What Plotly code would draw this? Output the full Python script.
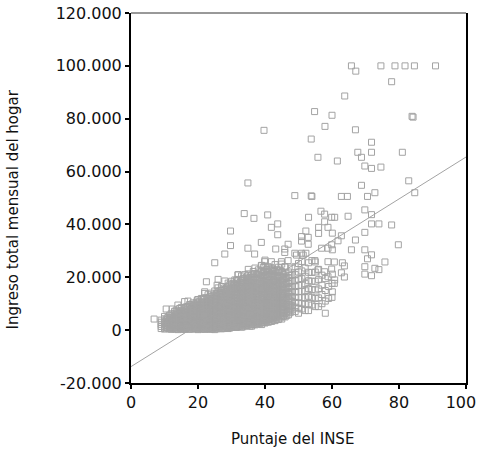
import plotly.graph_objects as go

# Puntos dispersos (puntaje INSE, ingreso en miles)
inse_disperso = [6.9, 65.8, 74.6, 78.8, 81.8, 84.6, 90.9, 67.1, 77.8, 63.8, 54.8, 60.0, 83.9, 84.2,
                 57.9, 67.0, 39.7, 53.8, 71.8, 55.8, 67.7, 68.8, 71.8, 81.0, 61.6, 69.8, 71.8, 74.6,
                 82.9, 34.9, 68.8, 84.7, 48.9, 53.8, 54.0, 62.8, 64.6, 70.6, 72.8, 69.8, 71.8, 64.8,
                 59.9, 60.8, 33.8, 36.7, 40.8, 53.0, 56.7, 57.8, 57.8, 71.8, 74.0, 77.8, 69.8, 67.0,
                 62.8, 61.8, 79.8, 65.8, 69.8, 71.8, 70.6, 75.8, 69.8, 72.8, 74.0, 69.8, 71.8, 63.1,
                 63.7, 62.8, 63.7, 60.7, 60.1, 60.7, 60.1, 60.1, 59.9, 60.1, 29.7, 41.9, 43.8, 43.8,
                 56.0, 58.8, 56.0, 52.2, 50.9, 52.9, 50.9, 52.9, 29.7, 38.9, 34.9, 36.9, 46.9, 43.2,
                 45.9, 45.9, 28.0, 25.0, 48.9, 50.9, 52.2, 56.9, 58.8, 54.9, 58.8, 59.9, 55.8, 57.8,
                 58.8, 60.8, 39.9, 41.9, 38.9, 42.2, 44.9, 46.9, 45.9, 22.5, 26.0, 28.0, 31.9, 22.0,
                 10.5, 12.3, 14.0, 16.0, 17.0, 19.8, 25.7, 49.4, 51.4]
ingreso_disperso = [4.2, 100, 100, 100, 100, 100, 100, 98.0, 94.0, 88.6, 82.7, 81.3, 80.9, 80.6,
                    77.1, 75.8, 75.6, 72.3, 71.1, 65.4, 67.3, 65.4, 67.3, 67.3, 64.0, 62.1, 61.2, 61.7,
                    56.5, 55.7, 54.8, 52.0, 50.9, 50.8, 50.6, 50.6, 50.6, 50.6, 52.0, 45.5, 43.7, 43.1,
                    42.7, 42.7, 44.1, 42.3, 43.6, 42.7, 45.0, 43.9, 41.0, 40.2, 40.2, 39.8, 37.0, 34.1,
                    35.7, 33.8, 32.3, 30.4, 30.4, 28.5, 27.0, 25.8, 24.0, 23.4, 22.9, 21.2, 20.6, 25.5,
                    24.3, 21.7, 20.1, 25.8, 21.2, 17.7, 14.5, 36.7, 32.3, 30.4, 37.5, 38.9, 40.2, 36.1,
                    38.9, 38.9, 36.6, 37.5, 35.4, 35.1, 33.7, 32.5, 32.0, 33.2, 31.0, 28.8, 32.5, 30.7,
                    30.7, 29.4, 28.8, 25.5, 29.1, 29.1, 29.1, 31.0, 31.0, 26.3, 25.9, 23.1, 22.8, 22.1,
                    20.2, 19.0, 25.9, 25.9, 24.4, 22.8, 25.9, 26.3, 24.0, 18.3, 19.2, 18.6, 20.9, 13.9,
                    8.0, 8.0, 9.5, 10.8, 11.0, 11.4, 17.0, 28.4, 28.4]

# Nube densa: puntaje INSE por columna y sus ingresos (miles)
inse_columnas = list(range(9, 61))
ingreso_columnas = [
    [0.6, 1.4, 2.2, 3.0, 3.8],
    [0.4, 1.1, 1.9, 2.6, 3.4, 4.3, 5.2],
    [0.7, 1.5, 2.3, 3.1, 3.9, 4.8],
    [0.3, 1.0, 1.8, 2.5, 3.3, 4.1, 5.0, 6.2],
    [0.5, 1.3, 2.0, 2.8, 3.6, 4.4, 5.3, 6.4, 7.1],
    [0.2, 0.9, 1.7, 2.4, 3.2, 4.0, 4.9, 5.8, 6.9],
    [0.6, 1.4, 2.1, 2.9, 3.7, 4.5, 5.4, 6.3, 7.5, 8.6],
    [0.3, 1.0, 1.8, 2.6, 3.4, 4.2, 5.1, 6.0, 7.0, 8.1],
    [0.8, 1.5, 2.3, 3.1, 3.9, 4.7, 5.6, 6.6, 7.7, 9.0],
    [0.4, 1.2, 2.0, 2.8, 3.5, 4.3, 5.2, 6.1, 7.1, 8.2, 9.4],
    [0.6, 1.3, 2.1, 2.9, 3.7, 4.6, 5.5, 6.4, 7.4, 8.5, 9.8],
    [0.2, 1.0, 1.8, 2.6, 3.4, 4.2, 5.0, 5.9, 6.8, 7.8, 8.9, 10.2, 11.6],
    [0.5, 1.3, 2.1, 2.9, 3.7, 4.5, 5.4, 6.3, 7.2, 8.2, 9.3, 10.5, 12.0],
    [0.3, 1.1, 1.9, 2.7, 3.5, 4.3, 5.2, 6.1, 7.0, 8.0, 9.1, 10.3, 11.7, 14.5],
    [0.6, 1.4, 2.2, 3.0, 3.8, 4.6, 5.5, 6.4, 7.3, 8.3, 9.4, 10.6, 12.0, 13.4],
    [0.4, 1.2, 2.0, 2.8, 3.6, 4.4, 5.3, 6.2, 7.1, 8.0, 9.0, 10.1, 11.3, 12.6, 14.0],
    [0.2, 1.0, 1.8, 2.6, 3.4, 4.2, 5.0, 5.9, 6.8, 7.7, 8.7, 9.7, 10.8, 12.0, 13.3, 14.8],
    [0.7, 1.5, 2.3, 3.1, 3.9, 4.7, 5.6, 6.5, 7.4, 8.4, 9.4, 10.5, 11.7, 13.0, 14.4, 16.0],
    [0.5, 1.3, 2.1, 2.9, 3.7, 4.5, 5.3, 6.2, 7.1, 8.0, 9.0, 10.0, 11.1, 12.3, 13.6, 15.0, 16.5],
    [0.8, 1.6, 2.4, 3.2, 4.0, 4.8, 5.7, 6.6, 7.5, 8.4, 9.4, 10.4, 11.5, 12.7, 14.0, 15.4],
    [0.6, 1.4, 2.2, 3.0, 3.8, 4.6, 5.4, 6.3, 7.2, 8.1, 9.1, 10.1, 11.2, 12.4, 13.7, 15.1, 16.6, 17.8],
    [1.0, 1.8, 2.6, 3.4, 4.2, 5.0, 5.9, 6.8, 7.7, 8.6, 9.6, 10.6, 11.7, 12.9, 14.2, 15.6, 17.0, 18.5],
    [1.2, 2.0, 2.8, 3.6, 4.4, 5.2, 6.1, 7.0, 7.9, 8.8, 9.8, 10.8, 11.9, 13.1, 14.4, 15.8, 17.3, 19.0],
    [1.4, 2.2, 3.0, 3.8, 4.6, 5.4, 6.3, 7.2, 8.1, 9.0, 10.0, 11.0, 12.1, 13.3, 14.6, 16.0, 17.5, 19.2, 21.0],
    [1.1, 1.9, 2.7, 3.5, 4.3, 5.1, 6.0, 6.9, 7.8, 8.7, 9.7, 10.7, 11.8, 13.0, 14.3, 15.7, 17.2, 18.8, 20.5],
    [1.6, 2.4, 3.2, 4.0, 4.8, 5.6, 6.5, 7.4, 8.3, 9.2, 10.2, 11.2, 12.3, 13.5, 14.8, 16.2, 17.7, 19.3, 21.0],
    [1.9, 2.7, 3.5, 4.3, 5.1, 5.9, 6.8, 7.7, 8.6, 9.5, 10.5, 11.5, 12.6, 13.8, 15.1, 16.5, 18.0, 19.6, 21.3, 23.0],
    [1.5, 2.3, 3.1, 3.9, 4.7, 5.5, 6.4, 7.3, 8.2, 9.1, 10.1, 11.1, 12.2, 13.4, 14.7, 16.1, 17.6, 19.2, 20.9],
    [2.0, 2.8, 3.6, 4.4, 5.2, 6.0, 6.9, 7.8, 8.7, 9.6, 10.6, 11.6, 12.7, 13.9, 15.2, 16.6, 18.1, 19.7, 21.4, 23.5],
    [2.4, 3.2, 4.0, 4.8, 5.6, 6.5, 7.4, 8.3, 9.2, 10.2, 11.2, 12.3, 13.5, 14.8, 16.2, 17.7, 19.3, 21.0, 22.8],
    [2.1, 2.9, 3.7, 4.5, 5.3, 6.2, 7.1, 8.0, 8.9, 9.9, 10.9, 12.0, 13.2, 14.5, 15.9, 17.4, 19.0, 20.7, 22.5, 24.5],
    [2.7, 3.5, 4.3, 5.1, 6.0, 6.9, 7.8, 8.7, 9.7, 10.7, 11.8, 13.0, 14.3, 15.7, 17.2, 18.8, 20.5, 22.3, 24.2, 26.5],
    [3.0, 3.9, 4.8, 5.7, 6.6, 7.5, 8.5, 9.5, 10.5, 11.6, 12.8, 14.1, 15.5, 17.0, 18.6, 20.3, 22.1, 24.0],
    [3.3, 4.2, 5.1, 6.0, 6.9, 7.9, 8.9, 9.9, 11.0, 12.2, 13.5, 14.9, 16.4, 18.0, 19.7, 21.5, 23.4],
    [3.6, 4.6, 5.6, 6.6, 7.6, 8.7, 9.8, 11.0, 12.3, 13.7, 15.2, 16.8, 18.5, 20.3, 22.2, 24.8],
    [4.0, 5.0, 6.0, 7.1, 8.2, 9.4, 10.6, 11.9, 13.3, 14.8, 16.4, 18.1, 19.9, 21.8, 23.8],
    [4.2, 5.4, 6.6, 7.8, 9.0, 10.3, 11.7, 13.2, 14.8, 16.5, 18.3, 20.2, 22.2, 25.0],
    [5.0, 6.3, 7.6, 9.0, 10.5, 12.1, 13.8, 15.6, 17.5, 19.5, 21.6, 23.9],
    [5.8, 7.2, 8.7, 10.3, 12.0, 13.8, 15.7, 17.7, 19.8, 22.0],
    [7.6, 9.2, 10.9, 12.7, 14.6, 16.6, 18.7, 20.9, 23.5],
    [7.0, 8.7, 10.5, 12.4, 14.4, 16.5, 18.7, 21.0, 24.0],
    [6.4, 8.3, 10.3, 12.4, 14.6, 16.9, 19.3, 22.0, 25.2],
    [8.0, 10.1, 12.3, 14.6, 17.0, 19.5, 22.4, 26.0],
    [7.4, 9.8, 12.3, 14.9, 17.6, 20.4, 23.5],
    [7.4, 10.0, 12.8, 15.7, 18.7, 21.9, 25.5],
    [9.5, 12.4, 15.4, 18.5, 21.8, 26.3],
    [8.9, 12.0, 15.2, 18.5, 22.0, 25.8],
    [8.9, 12.2, 15.6, 19.1, 23.0],
    [10.0, 13.5, 17.0, 20.8],
    [6.4, 11.0, 15.0, 19.5],
    [12.0, 16.5],
    [12.4, 17.7],
]

# Columnas intermedias de la nube densa (puntajes 10,5 a 47,5)
inse_columnas_medias = [v + 0.5 for v in range(10, 48)]
ingreso_columnas_medias = [
    [0.9, 1.7, 2.5, 3.3, 4.1],
    [0.5, 1.2, 2.0, 2.8, 3.6, 4.5, 5.6],
    [0.7, 1.5, 2.3, 3.0, 3.8, 4.7, 5.7],
    [0.4, 1.1, 1.9, 2.6, 3.4, 4.2, 5.0, 6.0, 7.6],
    [0.8, 1.6, 2.4, 3.2, 4.0, 4.8, 5.7, 6.7, 8.2],
    [0.3, 1.1, 1.9, 2.7, 3.5, 4.3, 5.2, 6.1, 7.1],
    [0.6, 1.4, 2.2, 3.0, 3.8, 4.6, 5.5, 6.5, 7.6, 8.8],
    [0.3, 1.1, 1.9, 2.7, 3.5, 4.3, 5.2, 6.1, 7.2, 8.4, 9.7],
    [0.7, 1.5, 2.3, 3.1, 3.9, 4.8, 5.7, 6.7, 7.8, 8.9, 10.3],
    [0.4, 1.2, 2.0, 2.8, 3.6, 4.4, 5.3, 6.2, 7.2, 8.2, 9.3, 10.6],
    [0.7, 1.5, 2.3, 3.1, 3.9, 4.7, 5.6, 6.5, 7.5, 8.5, 9.6, 10.9],
    [0.4, 1.2, 2.0, 2.8, 3.6, 4.4, 5.3, 6.2, 7.1, 8.1, 9.2, 10.4, 11.8],
    [0.6, 1.4, 2.2, 3.0, 3.8, 4.7, 5.6, 6.5, 7.5, 8.5, 9.6, 10.8, 12.2],
    [0.3, 1.1, 1.9, 2.7, 3.5, 4.3, 5.1, 6.0, 6.9, 7.9, 8.9, 10.0, 11.2, 12.6],
    [0.7, 1.5, 2.3, 3.1, 3.9, 4.8, 5.7, 6.6, 7.6, 8.6, 9.6, 10.7, 11.9, 13.2],
    [0.5, 1.3, 2.1, 2.9, 3.7, 4.5, 5.4, 6.3, 7.2, 8.2, 9.2, 10.3, 11.4, 12.6, 13.9],
    [0.9, 1.7, 2.5, 3.3, 4.1, 5.0, 5.9, 6.8, 7.8, 8.8, 9.9, 11.0, 12.2, 13.5, 14.9],
    [0.6, 1.4, 2.2, 3.0, 3.8, 4.6, 5.5, 6.4, 7.3, 8.3, 9.3, 10.3, 11.4, 12.6, 13.9, 15.6],
    [1.0, 1.8, 2.6, 3.4, 4.2, 5.1, 6.0, 6.9, 7.9, 8.9, 9.9, 11.0, 12.1, 13.3, 14.6, 16.0],
    [0.8, 1.6, 2.4, 3.2, 4.0, 4.9, 5.8, 6.7, 7.6, 8.6, 9.6, 10.7, 11.8, 13.0, 14.3, 15.7, 17.2],
    [1.3, 2.1, 2.9, 3.7, 4.5, 5.4, 6.3, 7.2, 8.1, 9.1, 10.1, 11.2, 12.3, 13.5, 14.8, 16.2, 17.7],
    [1.0, 1.8, 2.6, 3.4, 4.2, 5.1, 6.0, 6.9, 7.8, 8.8, 9.8, 10.9, 12.0, 13.2, 14.5, 15.9, 17.4, 18.9],
    [1.6, 2.4, 3.2, 4.0, 4.8, 5.7, 6.6, 7.5, 8.4, 9.4, 10.4, 11.5, 12.6, 13.8, 15.1, 16.5, 18.0],
    [1.3, 2.1, 2.9, 3.7, 4.5, 5.4, 6.3, 7.2, 8.2, 9.2, 10.2, 11.3, 12.5, 13.7, 15.0, 16.4, 17.9, 19.5],
    [1.8, 2.6, 3.4, 4.2, 5.0, 5.9, 6.8, 7.7, 8.7, 9.7, 10.7, 11.8, 12.9, 14.1, 15.4, 16.8, 18.4, 20.1],
    [1.5, 2.3, 3.1, 3.9, 4.7, 5.6, 6.5, 7.4, 8.4, 9.4, 10.4, 11.5, 12.7, 13.9, 15.2, 16.6, 18.2, 19.9],
    [2.1, 2.9, 3.7, 4.5, 5.3, 6.2, 7.1, 8.0, 9.0, 10.0, 11.0, 12.1, 13.3, 14.5, 15.8, 17.2, 18.8, 20.4, 22.2],
    [2.3, 3.1, 3.9, 4.7, 5.5, 6.4, 7.3, 8.2, 9.2, 10.2, 11.3, 12.4, 13.6, 14.9, 16.3, 17.8, 19.4, 21.1],
    [2.6, 3.4, 4.2, 5.0, 5.9, 6.8, 7.7, 8.6, 9.6, 10.6, 11.7, 12.8, 14.0, 15.3, 16.7, 18.2, 19.8, 21.6],
    [2.9, 3.7, 4.5, 5.3, 6.2, 7.1, 8.0, 8.9, 9.9, 10.9, 12.0, 13.1, 14.3, 15.6, 17.0, 18.5, 20.1, 21.9, 23.8],
    [3.1, 3.9, 4.7, 5.5, 6.4, 7.3, 8.2, 9.2, 10.2, 11.3, 12.4, 13.6, 14.9, 16.3, 17.8, 19.4, 21.1, 23.0],
    [3.4, 4.3, 5.2, 6.1, 7.0, 8.0, 9.0, 10.0, 11.1, 12.3, 13.5, 14.8, 16.2, 17.7, 19.3, 21.0, 22.8],
    [3.8, 4.7, 5.6, 6.5, 7.5, 8.5, 9.5, 10.6, 11.8, 13.1, 14.4, 15.8, 17.3, 18.9, 20.6, 22.5],
    [4.1, 5.1, 6.1, 7.1, 8.1, 9.2, 10.3, 11.5, 12.8, 14.2, 15.7, 17.3, 19.0, 20.8, 23.0],
    [4.6, 5.6, 6.6, 7.7, 8.8, 10.0, 11.2, 12.5, 13.9, 15.4, 17.0, 18.7, 20.5, 22.6],
    [5.2, 6.3, 7.4, 8.6, 9.8, 11.1, 12.5, 14.0, 15.6, 17.3, 19.1, 21.1],
    [5.6, 6.9, 8.2, 9.6, 11.1, 12.7, 14.4, 16.2, 18.1, 20.1],
    [6.6, 8.0, 9.5, 11.1, 12.8, 14.6, 16.5, 18.5, 20.7],
]

# Recta de regresión
intercepto = -13800
pendiente = 793
recta_x = [0, 100]

x_ticks = [0, 20, 40, 60, 80, 100]
x_ticktext = ["0", "20", "40", "60", "80", "100\u00a0\u00a0"]
y_ticks = [-20000, 0, 20000, 40000, 60000, 80000, 100000, 120000]
y_ticktext = ["-20.000", "0", "20.000", "40.000", "60.000", "80.000", "100.000", "120.000"]

xs, ys = [], []
for cols_x, cols_y in ((inse_columnas, ingreso_columnas),
                       (inse_columnas_medias, ingreso_columnas_medias)):
    for xc, col in zip(cols_x, cols_y):
        for v in col:
            xs.append(xc)
            ys.append(v * 1000)
for xv, yv in zip(inse_disperso, ingreso_disperso):
    xs.append(xv)
    ys.append(yv * 1000)

gris = "#a3a3a3"
fig = go.Figure()
fig.add_trace(go.Scatter(
    x=xs, y=ys, mode="markers",
    marker=dict(symbol="square-open", size=6, color=gris, line=dict(width=1, color=gris)),
    showlegend=False, hoverinfo="skip"))
fig.add_trace(go.Scatter(
    x=recta_x, y=[intercepto + pendiente * v for v in recta_x], mode="lines",
    line=dict(color=gris, width=1), showlegend=False, hoverinfo="skip"))

fuente = dict(family="DejaVu Sans", size=16, color="#111111")
fig.update_layout(
    width=478, height=453, autosize=False,
    margin=dict(l=131, r=12, t=13, b=70),
    paper_bgcolor="white", plot_bgcolor="white",
    font=fuente,
    xaxis=dict(range=[0, 100], tickvals=x_ticks, ticktext=x_ticktext, ticks="outside",
               ticklen=4, tickwidth=2, tickcolor="black", showline=True, linecolor="black",
               linewidth=2, showgrid=False, zeroline=False, tickfont=fuente,
               ticklabeloverflow="allow", automargin=False),
    yaxis=dict(range=[-20000, 120000], tickvals=y_ticks, ticktext=y_ticktext, ticks="outside",
               ticklen=4, tickwidth=2, tickcolor="black", showline=True, linecolor="black",
               linewidth=2, mirror=True, showgrid=False, zeroline=False, tickfont=fuente,
               automargin=False),
    shapes=[dict(type="line", xref="paper", yref="paper", x0=0, x1=1, y0=1, y1=1,
                 line=dict(color="#333333", width=1))],
    annotations=[
        dict(text="Puntaje del INSE", xref="paper", yref="paper", x=(292.5 - 131) / 335,
             y=-(439 - 383) / 370, showarrow=False, xanchor="center", yanchor="middle",
             font=dict(family="DejaVu Sans", size=15, color="#111111")),
        dict(text="Ingreso total mensual del hogar", xref="paper", yref="paper",
             x=-(131 - 12) / 335, y=(383 - 209.5) / 370, showarrow=False, textangle=-90,
             xanchor="center", yanchor="middle",
             font=dict(family="DejaVu Sans", size=15, color="#111111")),
    ],
)
fig.write_html("out.html", config={"displayModeBar": False, "responsive": False},
               post_script=("document.documentElement.style.overflow='hidden';"
                            "document.body.style.overflow='hidden';"
                            "document.body.style.margin='0px';document.body.style.padding='0px';"))
